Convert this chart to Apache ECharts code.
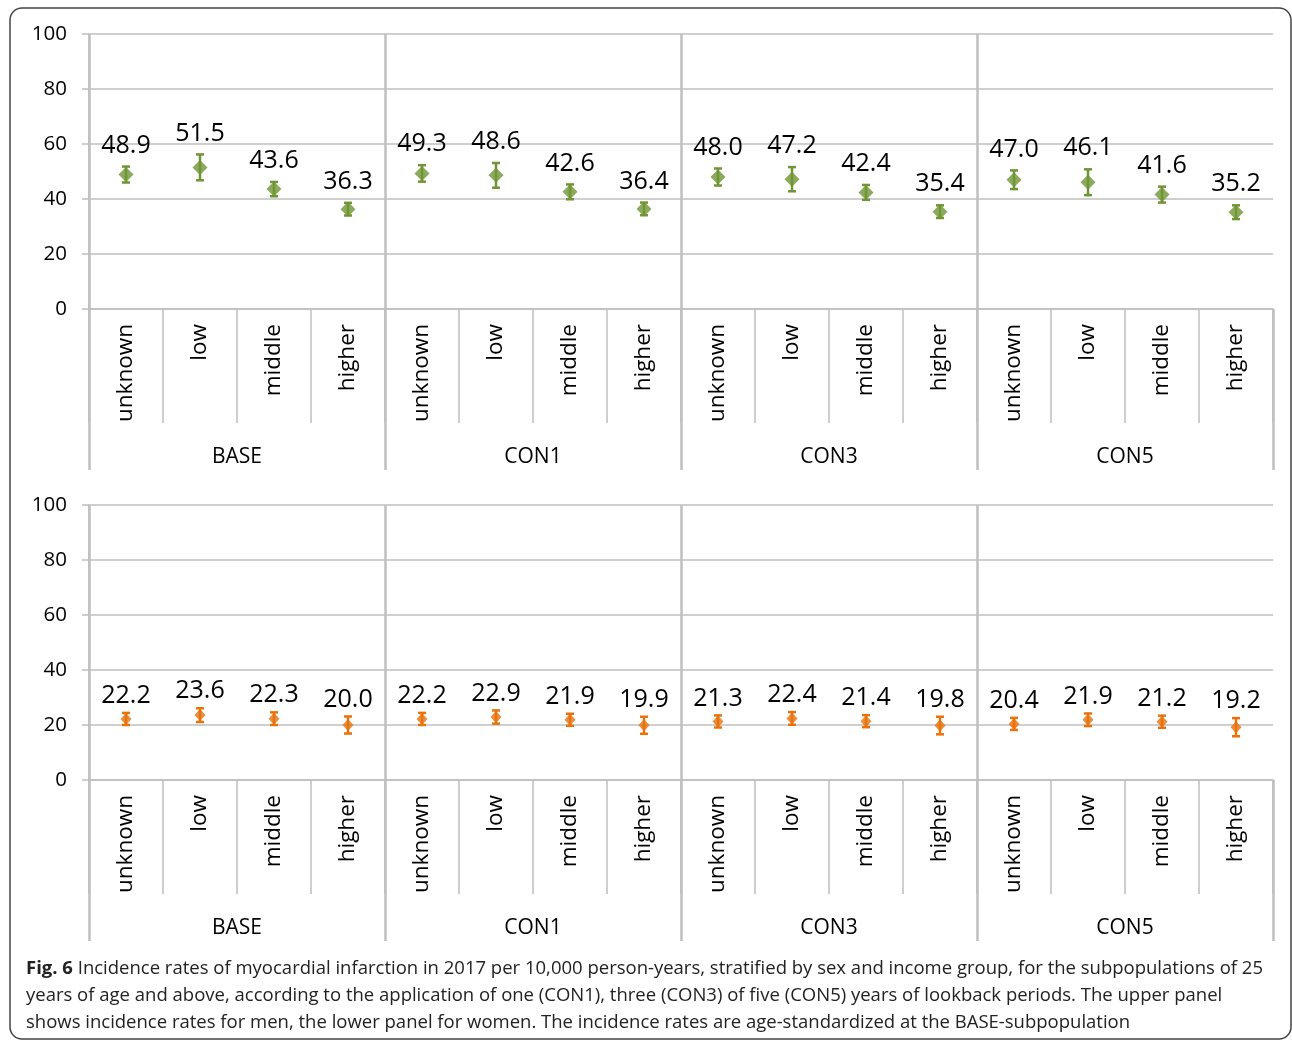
<!DOCTYPE html>
<html>
<head>
<meta charset="utf-8">
<script src="https://cdn.jsdelivr.net/npm/echarts@6/dist/echarts.min.js"></script>
<style>
  html, body { margin: 0; padding: 0; background: #fff; }
  #chart { width: 1292px; height: 1042px; }
</style>
</head>
<body>
<div id="chart"></div>
<script>
// groups and income categories
var groups = ["BASE", "CON1", "CON3", "CON5"];
var incomes = ["unknown", "low", "middle", "higher"];
var yTicks = [0, 20, 40, 60, 80, 100];

// men (upper panel)
var menRate = [48.9, 51.5, 43.6, 36.3, 49.3, 48.6, 42.6, 36.4, 48.0, 47.2, 42.4, 35.4, 47.0, 46.1, 41.6, 35.2];
var menLow  = [46.0, 46.8, 41.0, 34.0, 46.3, 44.1, 39.9, 34.1, 44.9, 42.8, 39.7, 33.1, 43.6, 41.4, 38.7, 32.7];
var menHigh = [51.8, 56.2, 46.2, 38.6, 52.3, 53.1, 45.3, 38.7, 51.1, 51.6, 45.1, 37.7, 50.4, 50.8, 44.5, 37.7];

// women (lower panel)
var womenRate = [22.2, 23.6, 22.3, 20.0, 22.2, 22.9, 21.9, 19.9, 21.3, 22.4, 21.4, 19.8, 20.4, 21.9, 21.2, 19.2];
var womenLow  = [20.0, 21.1, 20.0, 16.9, 20.0, 20.5, 19.7, 16.8, 19.1, 20.1, 19.2, 16.6, 18.2, 19.6, 19.0, 15.9];
var womenHigh = [24.4, 26.1, 24.6, 23.1, 24.4, 25.3, 24.1, 23.0, 23.5, 24.7, 23.6, 23.0, 22.6, 24.2, 23.4, 22.5];

var caption = [
  " Incidence rates of myocardial infarction in 2017 per 10,000 person-years, stratified by sex and income group, for the subpopulations of 25",
  "years of age and above, according to the application of one (CON1), three (CON3) of five (CON5) years of lookback periods. The upper panel",
  "shows incidence rates for men, the lower panel for women. The incidence rates are age-standardized at the BASE-subpopulation"
];

var FONT = "Open Sans";
var GRID_COLOR = "#bfbfbf";

var cats = [];
groups.forEach(function (g) {
  incomes.forEach(function (inc) { cats.push(g + "|" + inc); });
});

var myChart = echarts.init(document.getElementById("chart"));

function xAxesFor(gridIndex) {
  return [
    {
      gridIndex: gridIndex,
      type: "category",
      data: cats,
      axisLine: { lineStyle: { color: GRID_COLOR, width: 1.5 } },
      axisTick: { show: true, interval: 0, length: 114, lineStyle: { color: GRID_COLOR, width: 1.5 } },
      axisLabel: {
        interval: 0,
        rotate: 90,
        margin: 15,
        color: "#000",
        fontFamily: FONT,
        fontSize: 22.5,
        formatter: function (v) { return v.split("|")[1]; }
      },
      splitLine: { show: false }
    },
    {
      gridIndex: gridIndex,
      type: "category",
      data: groups,
      position: "bottom",
      axisLine: { show: false },
      axisTick: { show: true, interval: 0, length: 161, lineStyle: { color: GRID_COLOR, width: 2.5 } },
      axisLabel: {
        interval: 0,
        margin: 138,
        color: "#000",
        fontFamily: FONT,
        fontSize: 21,
        formatter: function (v) { return v; }
      },
      splitLine: { show: true, showMaxLine: false, interval: 0, lineStyle: { color: GRID_COLOR, width: 2.5 } }
    }
  ];
}

function yAxisFor(gridIndex) {
  return {
    gridIndex: gridIndex,
    type: "value",
    min: 0,
    max: 100,
    interval: 20,
    axisLine: { show: true, lineStyle: { color: GRID_COLOR, width: 1.5 } },
    axisTick: { show: true, length: 7, lineStyle: { color: GRID_COLOR, width: 1.5 } },
    axisLabel: {
      margin: 22,
      color: "#000",
      fontFamily: FONT,
      fontSize: 20.5,
      formatter: function (v) { return yTicks.indexOf(v) >= 0 ? String(v) : ""; }
    },
    splitLine: { lineStyle: { color: GRID_COLOR, width: 1.5 } }
  };
}

// error bars, with the value label placed above the upper bound
function errorSeries(axisIdx, rate, low, high, color, cap, gap) {
  return {
    type: "custom",
    xAxisIndex: axisIdx,
    yAxisIndex: axisIdx / 2,
    z: 3,
    encode: { x: 0, y: [1, 2] },
    data: low.map(function (l, i) { return [i, l, high[i], rate[i]]; }),
    renderItem: function (params, api) {
      var x = api.value(0);
      var lo = api.coord([x, api.value(1)]);
      var hi = api.coord([x, api.value(2)]);
      var st = { stroke: color, lineWidth: 2.5 };
      return {
        type: "group",
        children: [
          { type: "line", shape: { x1: lo[0], y1: lo[1], x2: hi[0], y2: hi[1] }, style: st },
          { type: "line", shape: { x1: lo[0] - cap, y1: lo[1], x2: lo[0] + cap, y2: lo[1] }, style: st },
          { type: "line", shape: { x1: hi[0] - cap, y1: hi[1], x2: hi[0] + cap, y2: hi[1] }, style: st },
          {
            type: "text",
            x: hi[0],
            y: hi[1] - gap,
            style: {
              text: api.value(3).toFixed(1),
              fill: "#000",
              font: "25px " + FONT,
              align: "center",
              verticalAlign: "middle"
            }
          }
        ]
      };
    }
  };
}

function pointSeries(axisIdx, rate, color, size) {
  return {
    type: "scatter",
    xAxisIndex: axisIdx,
    yAxisIndex: axisIdx / 2,
    z: 4,
    symbol: "diamond",
    symbolSize: size,
    itemStyle: { color: color },
    data: rate.map(function (v, i) { return [i, v]; })
  };
}

var GREEN = "#6f9534";
var ORANGE = "#e8720c";

var option = {
  backgroundColor: "#fff",
  animation: false,
  grid: [
    { left: 89, top: 34, width: 1184, height: 275 },
    { left: 89, top: 505, width: 1184, height: 275 }
  ],
  xAxis: xAxesFor(0).concat(xAxesFor(1)),
  yAxis: [yAxisFor(0), yAxisFor(1)],
  series: [
    errorSeries(0, menRate, menLow, menHigh, GREEN, 4, 21),
    pointSeries(0, menRate, GREEN, [15, 15]),
    errorSeries(2, womenRate, womenLow, womenHigh, ORANGE, 4, 17),
    pointSeries(2, womenRate, ORANGE, [11, 12])
  ],
  graphic: [
    {
      type: "rect",
      shape: { x: 10, y: 8, width: 1281, height: 1031, r: 12 },
      style: { fill: "none", stroke: "#444", lineWidth: 1.5 },
      silent: true
    },
    {
      type: "text",
      left: 26,
      top: 959,
      style: {
        text: "{b|Fig. 6}" + caption[0],
        fontFamily: FONT,
        fontSize: 18.5,
        fill: "#222",
        rich: { b: { fontWeight: "bold", fontFamily: FONT, fontSize: 18.5, fill: "#222" } }
      }
    },
    {
      type: "text",
      left: 26,
      top: 986,
      style: { text: caption[1], fontFamily: FONT, fontSize: 18.5, fill: "#222" }
    },
    {
      type: "text",
      left: 26,
      top: 1013,
      style: { text: caption[2], fontFamily: FONT, fontSize: 18.5, fill: "#222" }
    }
  ]
};

myChart.setOption(option);
window.addEventListener("resize", function () {
  myChart.resize();
});
</script>
</body>
</html>
